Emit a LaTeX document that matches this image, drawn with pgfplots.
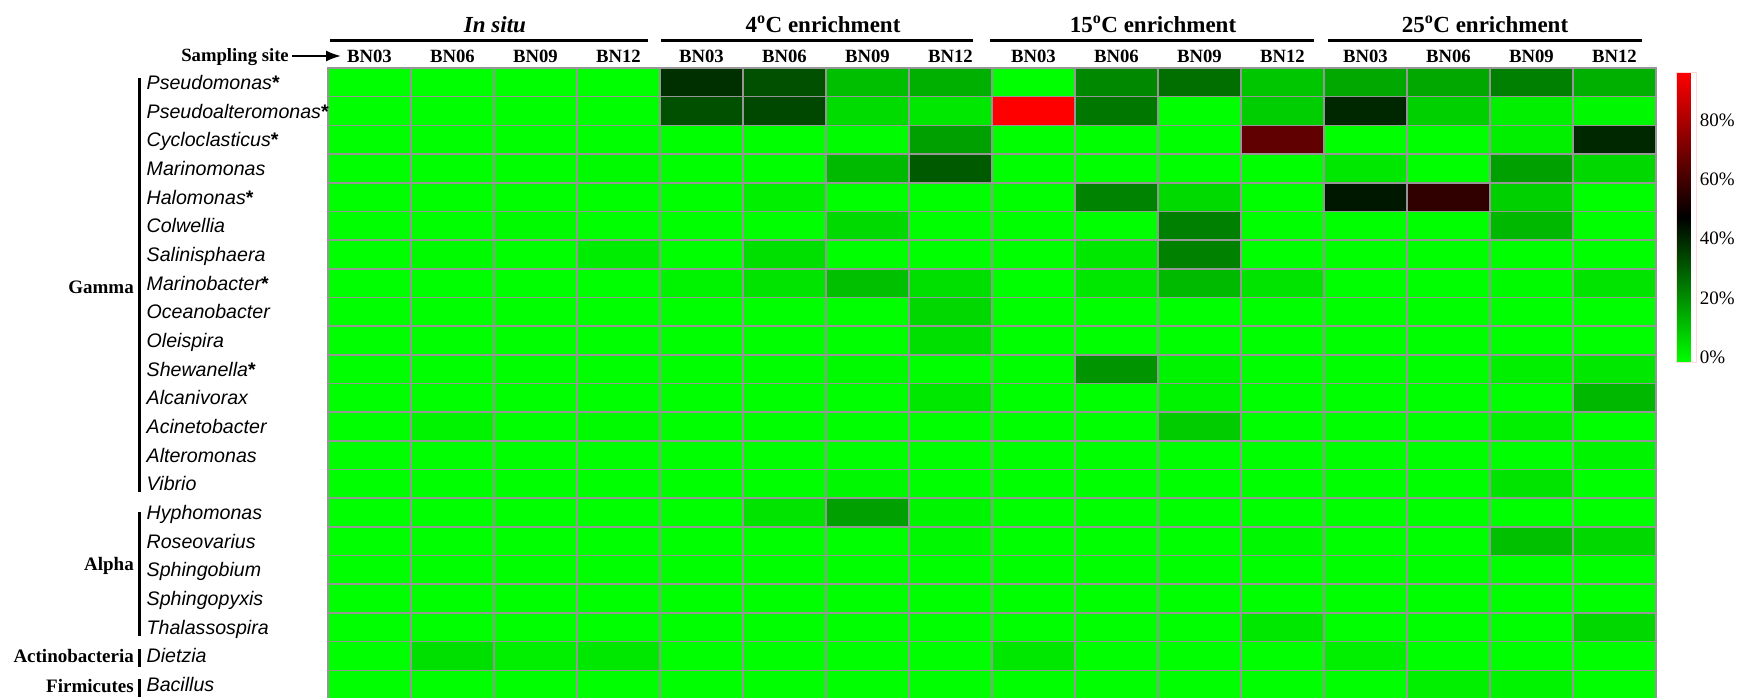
\documentclass[border=0pt]{standalone}
\usepackage{pgfplots}
\pgfplotsset{compat=1.18}
\usepackage{fontspec}
\setmainfont{Liberation Serif}
\newfontfamily\arialfont{Liberation Sans}
\usetikzlibrary{arrows.meta}
\definecolor{gridgray}{RGB}{150,150,150}
\newcommand{\gn}[1]{{\arialfont\itshape #1}}
\newcommand{\gs}[1]{{\arialfont\itshape #1}{\arialfont\bfseries *}}
\begin{document}
\begin{tikzpicture}
\begin{axis}[
  at={(328pt,-68pt)}, anchor=north west,
  scale only axis, width=1328pt, height=631pt,
  xmin=-0.5, xmax=15.5, ymin=-0.5, ymax=21.5, y dir=reverse,
  enlargelimits=false,
  colormap={gbr}{rgb255=(0,255,0) rgb255=(0,0,0) rgb255=(255,0,0)},
  point meta min=0, point meta max=98,
  xtick={0,...,15},
  xticklabels={BN03,BN06,BN09,BN12,BN03,BN06,BN09,BN12,BN03,BN06,BN09,BN12,BN03,BN06,BN09,BN12},
  xticklabel pos=upper,
  x tick label style={anchor=base, inner sep=0pt, yshift=6pt, font=\bfseries\fontsize{18.7}{20}\selectfont},
  ytick={0,...,21},
  yticklabels={\gs{Pseudomonas},\gs{Pseudoalteromonas},\gs{Cycloclasticus},\gn{Marinomonas},\gs{Halomonas},\gn{Colwellia},\gn{Salinisphaera},\gs{Marinobacter},\gn{Oceanobacter},\gn{Oleispira},\gs{Shewanella},\gn{Alcanivorax},\gn{Acinetobacter},\gn{Alteromonas},\gn{Vibrio},\gn{Hyphomonas},\gn{Roseovarius},\gn{Sphingobium},\gn{Sphingopyxis},\gn{Thalassospira},\gn{Dietzia},\gn{Bacillus}},
  y tick label style={anchor=base west, inner sep=0pt, xshift=-181.5pt, yshift=-7pt, font=\fontsize{19.6}{22}\selectfont},
  major tick length=0pt, minor tick length=0pt,
  minor xtick={-0.5,0.5,...,15.5},
  minor ytick={-0.5,0.5,...,21.5},
  xminorgrids=true, yminorgrids=true,
  minor grid style={draw=gridgray, line width=1.6pt},
  axis line style={draw=gridgray, line width=2pt},
  axis on top,
  colorbar,
  colorbar style={
    at={(1668pt,-72pt)}, anchor=north west,
    scale only axis, width=20pt, height=290pt,
    ytick={0,20,40,60,80},
    yticklabels={0\%,20\%,40\%,60\%,80\%},
    yticklabel style={font=\fontsize{19}{21}\selectfont, inner sep=0pt, xshift=3pt, yshift=5pt, anchor=west},
    major tick length=0pt,
    axis line style={draw=red!15, line width=0.8pt},
  },
]
\addplot[matrix plot*, mesh/cols=16, mesh/rows=22, point meta=explicit] coordinates {
(0,0)[0] (1,0)[0] (2,0)[0] (3,0)[0] (4,0)[39.8] (5,0)[33.6] (6,0)[12.3] (7,0)[15.2] (8,0)[0] (9,0)[22.9] (10,0)[27.7] (11,0)[11] (12,0)[16.7] (13,0)[16.7] (14,0)[24.4] (15,0)[15.2]
(0,1)[0] (1,1)[0] (2,1)[0] (3,1)[0] (4,1)[33.6] (5,1)[35.2] (6,1)[6.7] (7,1)[4.4] (8,1)[98] (9,1)[25.9] (10,1)[0] (11,1)[9.4] (12,1)[41.3] (13,1)[9.0] (14,1)[2.9] (15,1)[1.3]
(0,2)[0] (1,2)[0] (2,2)[0] (3,2)[0] (4,2)[0] (5,2)[0] (6,2)[0.5] (7,2)[18.3] (8,2)[0] (9,2)[0] (10,2)[0] (11,2)[67.4] (12,2)[0] (13,2)[0] (14,2)[2.9] (15,2)[41.3]
(0,3)[0] (1,3)[0] (2,3)[0] (3,3)[1] (4,3)[0] (5,3)[0] (6,3)[13.2] (7,3)[31.5] (8,3)[0] (9,3)[0] (10,3)[0] (11,3)[0] (12,3)[4.4] (13,3)[0] (14,3)[18.3] (15,3)[7.5]
(0,4)[0] (1,4)[0] (2,4)[0] (3,4)[0] (4,4)[0] (5,4)[2.9] (6,4)[0] (7,4)[0] (8,4)[0] (9,4)[23.8] (10,4)[7.2] (11,4)[0] (12,4)[44.4] (13,4)[58.2] (14,4)[9.0] (15,4)[0]
(0,5)[0] (1,5)[0] (2,5)[1] (3,5)[0] (4,5)[0] (5,5)[0] (6,5)[7.2] (7,5)[0] (8,5)[0] (9,5)[0] (10,5)[24.4] (11,5)[0] (12,5)[0] (13,5)[0] (14,5)[13.6] (15,5)[0]
(0,6)[0] (1,6)[1] (2,6)[0] (3,6)[3.7] (4,6)[0] (5,6)[6] (6,6)[0] (7,6)[0] (8,6)[0] (9,6)[4.4] (10,6)[24] (11,6)[0] (12,6)[0] (13,6)[0] (14,6)[0] (15,6)[0]
(0,7)[0] (1,7)[0] (2,7)[0] (3,7)[0] (4,7)[2.1] (5,7)[5.2] (6,7)[12.1] (7,7)[6] (8,7)[0] (9,7)[4.4] (10,7)[13.2] (11,7)[5.2] (12,7)[0] (13,7)[0] (14,7)[1] (15,7)[5.2]
(0,8)[0] (1,8)[0] (2,8)[0] (3,8)[0] (4,8)[0] (5,8)[0] (6,8)[0] (7,8)[7.5] (8,8)[0] (9,8)[0] (10,8)[0] (11,8)[0] (12,8)[0] (13,8)[0] (14,8)[0] (15,8)[0]
(0,9)[0] (1,9)[0] (2,9)[0] (3,9)[0] (4,9)[0] (5,9)[0] (6,9)[0] (7,9)[6] (8,9)[0] (9,9)[0] (10,9)[0] (11,9)[0] (12,9)[0] (13,9)[0] (14,9)[0] (15,9)[0]
(0,10)[0] (1,10)[0] (2,10)[0] (3,10)[0] (4,10)[0] (5,10)[0] (6,10)[1] (7,10)[0] (8,10)[0] (9,10)[20.5] (10,10)[2.1] (11,10)[0] (12,10)[0] (13,10)[0] (14,10)[2.9] (15,10)[4.4]
(0,11)[0] (1,11)[0] (2,11)[0] (3,11)[0] (4,11)[0] (5,11)[0] (6,11)[0] (7,11)[4.4] (8,11)[0] (9,11)[0] (10,11)[2.1] (11,11)[0] (12,11)[0] (13,11)[0] (14,11)[0] (15,11)[13.6]
(0,12)[0] (1,12)[2.1] (2,12)[0] (3,12)[1] (4,12)[0] (5,12)[0] (6,12)[0] (7,12)[0] (8,12)[0] (9,12)[0] (10,12)[9.8] (11,12)[0] (12,12)[0] (13,12)[0] (14,12)[2.9] (15,12)[0]
(0,13)[0] (1,13)[0] (2,13)[0] (3,13)[0] (4,13)[0] (5,13)[0] (6,13)[0] (7,13)[0] (8,13)[0] (9,13)[0] (10,13)[0] (11,13)[0] (12,13)[0] (13,13)[0] (14,13)[0] (15,13)[2.1]
(0,14)[0] (1,14)[0] (2,14)[0] (3,14)[0] (4,14)[0] (5,14)[0] (6,14)[1.3] (7,14)[0] (8,14)[0] (9,14)[0] (10,14)[0] (11,14)[0] (12,14)[0] (13,14)[0] (14,14)[5.2] (15,14)[0]
(0,15)[0] (1,15)[0] (2,15)[0] (3,15)[0] (4,15)[0] (5,15)[5.2] (6,15)[18.3] (7,15)[2] (8,15)[0] (9,15)[0] (10,15)[0] (11,15)[0] (12,15)[0] (13,15)[0] (14,15)[0] (15,15)[0]
(0,16)[0] (1,16)[0] (2,16)[0] (3,16)[0] (4,16)[0] (5,16)[0] (6,16)[0] (7,16)[1.3] (8,16)[0] (9,16)[0] (10,16)[0] (11,16)[1.3] (12,16)[0] (13,16)[0] (14,16)[12.1] (15,16)[7.5]
(0,17)[0] (1,17)[0] (2,17)[0] (3,17)[0] (4,17)[0] (5,17)[0] (6,17)[0] (7,17)[0] (8,17)[0] (9,17)[0] (10,17)[0] (11,17)[0] (12,17)[0] (13,17)[0] (14,17)[0] (15,17)[0]
(0,18)[0] (1,18)[0] (2,18)[0] (3,18)[0] (4,18)[0] (5,18)[0] (6,18)[0] (7,18)[0] (8,18)[0] (9,18)[0] (10,18)[0] (11,18)[0] (12,18)[0] (13,18)[0] (14,18)[0] (15,18)[0]
(0,19)[0] (1,19)[0] (2,19)[0] (3,19)[0] (4,19)[0] (5,19)[0] (6,19)[0] (7,19)[0] (8,19)[0] (9,19)[0] (10,19)[0] (11,19)[4.4] (12,19)[0] (13,19)[0] (14,19)[0] (15,19)[7.5]
(0,20)[0] (1,20)[6] (2,20)[2.9] (3,20)[4.4] (4,20)[0] (5,20)[0] (6,20)[0] (7,20)[0] (8,20)[4.4] (9,20)[0] (10,20)[0] (11,20)[0] (12,20)[2.9] (13,20)[0] (14,20)[0] (15,20)[0]
(0,21)[0] (1,21)[0] (2,21)[0] (3,21)[0] (4,21)[0] (5,21)[0] (6,21)[0] (7,21)[0] (8,21)[0] (9,21)[0] (10,21)[0] (11,21)[0] (12,21)[0] (13,21)[2.9] (14,21)[2.1] (15,21)[0]
};
\end{axis}
% group titles
\begin{scope}[every node/.style={inner sep=0pt, anchor=base, font=\bfseries\fontsize{23}{25}\selectfont}]
\node at (495pt,-33pt) {\textit{In situ}};
\node at (823pt,-33pt) {4\textsuperscript{o}C enrichment};
\node at (1153pt,-33pt) {15\textsuperscript{o}C enrichment};
\node at (1485pt,-33pt) {25\textsuperscript{o}C enrichment};
\end{scope}
\begin{scope}[line width=3pt]
\draw (330pt,-40.5pt) -- (648pt,-40.5pt);
\draw (661pt,-40.5pt) -- (973pt,-40.5pt);
\draw (990pt,-40.5pt) -- (1314pt,-40.5pt);
\draw (1328pt,-40.5pt) -- (1642pt,-40.5pt);
\end{scope}
\node[inner sep=0pt, anchor=base east, font=\bfseries\fontsize{18.7}{20}\selectfont] at (289pt,-62pt) {Sampling site};
\draw[line width=2pt, -{Latex[length=15pt,width=11pt]}] (292pt,-56pt) -- (341pt,-56pt);
% brackets
\begin{scope}[line width=2.5pt]
\draw (139.7pt,-78pt) -- (139.7pt,-492pt);
\draw (139.7pt,-512pt) -- (139.7pt,-636pt);
\draw (139.7pt,-649pt) -- (139.7pt,-667pt);
\draw (139.7pt,-679pt) -- (139.7pt,-697pt);
\end{scope}
\begin{scope}[every node/.style={inner sep=0pt, anchor=base east, font=\bfseries\fontsize{19}{21}\selectfont}]
\node at (134pt,-293pt) {Gamma};
\node at (134pt,-570pt) {Alpha};
\node at (134pt,-662pt) {Actinobacteria};
\node at (134pt,-692pt) {Firmicutes};
\end{scope}
\pgfresetboundingbox
\useasboundingbox (0pt,-698pt) rectangle (1737pt,0pt);
\end{tikzpicture}
\end{document}
